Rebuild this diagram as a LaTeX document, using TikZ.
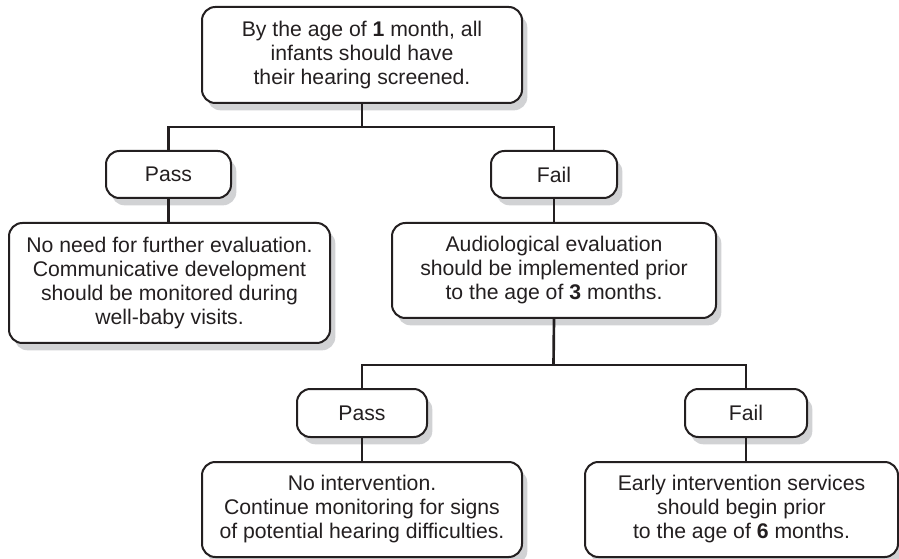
\documentclass[tikz,border=0pt]{standalone}
\usepackage{fontspec}
\setmainfont{Liberation Sans}
\usetikzlibrary{shadows}
\definecolor{ink}{HTML}{231F20}
\definecolor{shade}{HTML}{D1D2D4}
\tikzset{
  box/.style={draw=ink, line width=1.5pt, rounded corners=10pt, fill=white,
    align=center, inner sep=0pt, text=ink,
    font=\fontsize{15.9pt}{18pt}\selectfont,
    drop shadow={shadow xshift=4pt, shadow yshift=-5.5pt, fill=shade, opacity=1}},
  link/.style={draw=ink, line width=2pt}
}
\begin{document}
\begin{tikzpicture}[x=0.75pt, y=-0.75pt]
\useasboundingbox (0,0) rectangle (899,559);
\node[box, minimum width=240pt, minimum height=72pt] (top) at (362,55)
  {By the age of \textbf{1} month, all\\infants should have\\their hearing screened.};
\node[box, minimum width=93.75pt, minimum height=35.25pt] (pass1) at (168.5,174.5) {Pass};
\node[box, minimum width=94.5pt, minimum height=35.25pt] (fail1) at (554,174.5) {Fail};
\node[box, minimum width=240.75pt, minimum height=90pt] (res1) at (169.5,283)
  {No need for further evaluation.\\Communicative development\\should be monitored during\\well-baby visits.};
\node[box, minimum width=243pt, minimum height=71.25pt] (aud) at (554,270.5)
  {Audiological evaluation\\should be implemented prior\\to the age of \textbf{3} months.};
\node[box, minimum width=97.5pt, minimum height=36pt] (pass2) at (362,413) {Pass};
\node[box, minimum width=91.5pt, minimum height=36pt] (fail2) at (746,413) {Fail};
\node[box, minimum width=240pt, minimum height=71.25pt] (res2) at (362,509.5)
  {No intervention.\\Continue monitoring for signs\\of potential hearing difficulties.};
\node[box, minimum width=234.75pt, minimum height=71.25pt] (res3) at (741.5,509.5)
  {Early intervention services\\should begin prior\\to the age of \textbf{6} months.};
\coordinate (j1) at (362,127);
\coordinate (j2) at (553.5,365);
\draw[link] (top.south) -- (j1);
\draw[link] (pass1.north) |- (j1) -| (fail1.north);
\draw[link] (pass1.south) -- (pass1.south |- res1.north);
\draw[link] (fail1.south) -- (aud.north);
\draw[link] (aud.south) -- (j2);
\draw[link] (pass2.north) |- (j2) -| (fail2.north);
\draw[link] (pass2.south) -- (res2.north);
\draw[link] (fail2.south) -- (fail2.south |- res3.north);
\end{tikzpicture}
\end{document}
